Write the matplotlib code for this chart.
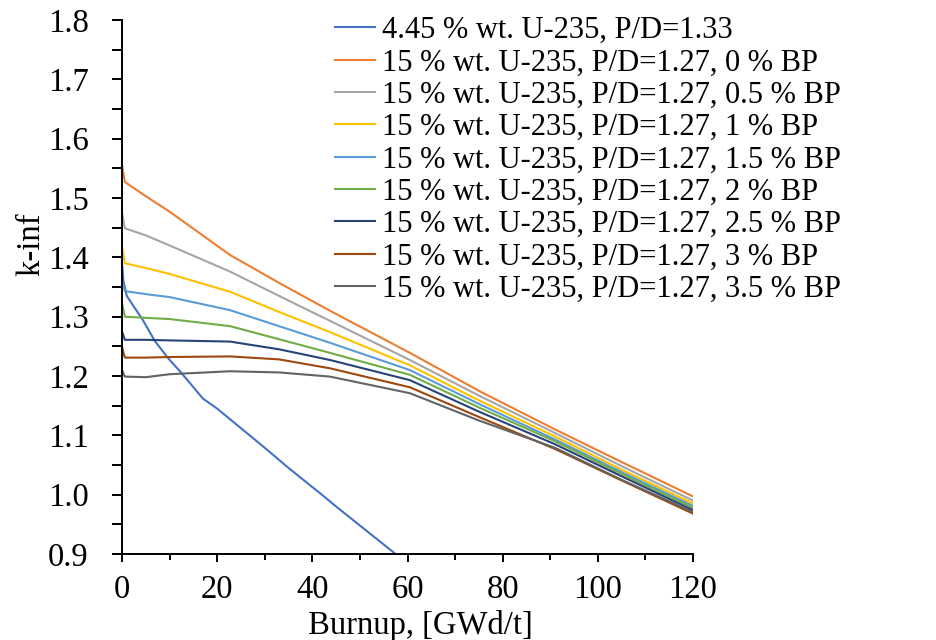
import matplotlib
matplotlib.use("Agg")
import matplotlib.pyplot as plt
from matplotlib.ticker import MultipleLocator

# burnup points (GWd/t) and k-inf values
x_ref = [0, 0.3, 1, 4.4, 6.9, 9.7, 12.5, 17, 20, 25, 30, 35, 42, 45, 50, 55, 57.5]
k_ref = [1.39, 1.36, 1.335, 1.294, 1.259, 1.23, 1.205, 1.162, 1.145, 1.112,
         1.079, 1.045, 1.0, 0.98, 0.948, 0.916, 0.90]

x_bp = [0, 0.6, 5, 10, 22.7, 33, 43.7, 60.5, 75, 91, 105, 120]
k_bp0 = [1.556, 1.527, 1.503, 1.477, 1.404, 1.357, 1.310, 1.239, 1.175, 1.110, 1.055, 0.997]
k_bp05 = [1.475, 1.449, 1.437, 1.420, 1.376, 1.335, 1.293, 1.227, 1.167, 1.104, 1.048, 0.990]
k_bp1 = [1.418, 1.390, 1.382, 1.372, 1.342, 1.308, 1.274, 1.218, 1.159, 1.098, 1.042, 0.985]
k_bp15 = [1.360, 1.343, 1.338, 1.333, 1.311, 1.284, 1.256, 1.210, 1.153, 1.093, 1.038, 0.981]
k_bp2 = [1.323, 1.300, 1.298, 1.296, 1.284, 1.262, 1.239, 1.202, 1.147, 1.090, 1.035, 0.978]
k_bp25 = [1.275, 1.261, 1.261, 1.260, 1.258, 1.245, 1.227, 1.193, 1.140, 1.085, 1.031, 0.974]
k_bp3 = [1.249, 1.231, 1.231, 1.232, 1.233, 1.228, 1.213, 1.181, 1.131, 1.077, 1.024, 0.968]
k_bp35 = [1.210, 1.199, 1.198, 1.203, 1.208, 1.206, 1.199, 1.171, 1.125, 1.079, 1.025, 0.971]

labels = [
    "4.45 % wt. U-235, P/D=1.33",
    "15 % wt. U-235, P/D=1.27, 0 % BP",
    "15 % wt. U-235, P/D=1.27, 0.5 % BP",
    "15 % wt. U-235, P/D=1.27, 1 % BP",
    "15 % wt. U-235, P/D=1.27, 1.5 % BP",
    "15 % wt. U-235, P/D=1.27, 2 % BP",
    "15 % wt. U-235, P/D=1.27, 2.5 % BP",
    "15 % wt. U-235, P/D=1.27, 3 % BP",
    "15 % wt. U-235, P/D=1.27, 3.5 % BP",
]
colors = ["#4472C4", "#ED7D31", "#A5A5A5", "#FFC000", "#5B9BD5",
          "#70AD47", "#264478", "#9E480E", "#636363"]

plt.rcParams['font.family'] = ['Liberation Serif', 'DejaVu Serif']

fig = plt.figure(figsize=(9.36, 6.4), dpi=100)
ax = fig.add_axes([122 / 936, 1 - 554 / 640, (693 - 122) / 936, (554 - 20) / 640])

ax.plot(x_ref, k_ref, color=colors[0], lw=1.5, label=labels[0])
bp_series = [k_bp0, k_bp05, k_bp1, k_bp15, k_bp2, k_bp25, k_bp3, k_bp35]
for i, k in enumerate(bp_series):
    ax.plot(x_bp, k, color=colors[i + 1], lw=1.5, label=labels[i + 1])

ax.set_xlim(0, 120)
ax.set_ylim(0.9, 1.8)
ax.xaxis.set_major_locator(MultipleLocator(20))
ax.xaxis.set_minor_locator(MultipleLocator(10))
ax.yaxis.set_major_locator(MultipleLocator(0.1))
ax.yaxis.set_minor_locator(MultipleLocator(0.05))
ax.yaxis.set_major_formatter(plt.FuncFormatter(lambda v, p: f"{v:.1f}"))

for side in ['top', 'right']:
    ax.spines[side].set_visible(False)
for side in ['left', 'bottom']:
    ax.spines[side].set_linewidth(1.4)

ax.tick_params(axis='y', which='both', direction='out', length=7, width=1.4,
               labelsize=23.5, pad=17)
ax.tick_params(axis='x', which='major', direction='out', length=6, width=1.4,
               labelsize=23.5, pad=9)
ax.tick_params(axis='x', which='minor', direction='out', length=4, width=1.4)

ax.set_xlabel("Burnup, [GWd/t]", fontsize=23.5)
ax.set_ylabel("k-inf", fontsize=23.5)
ax.xaxis.set_label_coords(0.522, -0.105)
ax.yaxis.set_label_coords(-0.133, 0.58)

fig.legend(loc='upper left', bbox_to_anchor=(335 / 936, 1 - 16 / 640),
           frameon=False, fontsize=22, handlelength=1.3, handletextpad=0.25,
           labelspacing=0.11, borderpad=0, borderaxespad=0)

fig.savefig("out.png", dpi=100)
